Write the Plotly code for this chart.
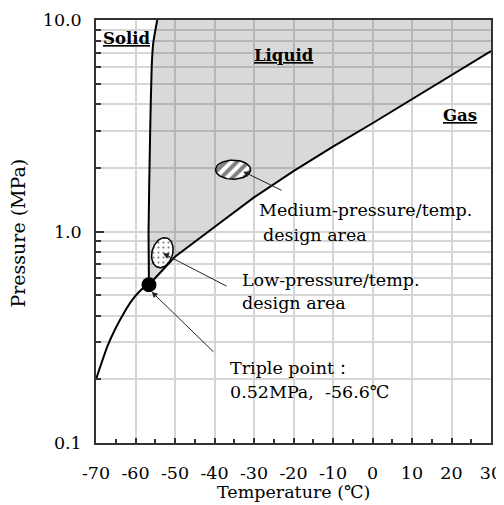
import numpy as np
import plotly.graph_objects as go

# ---------------- data ----------------
SUBLIMATION_T = [-70, -67, -65, -63, -61, -59, -57.5, -56.6]
SUBLIMATION_P = [0.20, 0.29, 0.35, 0.41, 0.47, 0.52, 0.55, 0.56]

MELTING_T = [-56.6, -56.7, -56.3, -55.9, -55.5, -54.5]
MELTING_P = [0.56, 1.0, 2.9, 6.0, 7.8, 10.0]

VAPOR_T = [-56.6, -50, -40, -30, -20, -10, 0, 10, 20, 30]
VAPOR_P = [0.56, 0.76, 1.05, 1.45, 1.93, 2.52, 3.25, 4.22, 5.48, 7.13]

TRIPLE_T = [-56.6]
TRIPLE_P = [0.56]

# design areas: centre temperature, centre pressure
MED_AREA_T = -35.3
MED_AREA_P = 1.96
LOW_AREA_T = -53.2
LOW_AREA_P = 0.794

X_TICKS = [-70, -60, -50, -40, -30, -20, -10, 0, 10, 20, 30]
X_TICK_TEXT = ["-70", "-60", "-50", "-40", "-30", "-20", "-10", "0", "10", "20", "30"]
Y_TICKS = [0.1, 1, 10]
Y_TICK_TEXT = ["0.1", "1.0", "10.0"]
Y_MINOR = [0.2, 0.3, 0.4, 0.5, 0.6, 0.7, 0.8, 0.9, 2, 3, 4, 5, 6, 7, 8, 9]

FONT = "DejaVu Serif"
FS = 17.5
AX_COLOR = "#333333"
GRID = "#d6d6d6"


def ellipse(tc, pc, r_t, r_log, shear=0.0, n=73):
    t = np.linspace(0, 2 * np.pi, n)
    x = tc + r_t * np.cos(t) + shear * np.sin(t)
    y = 10 ** (np.log10(pc) + r_log * np.sin(t))
    return x, y


fig = go.Figure()

# liquid region fill
fill_x = list(MELTING_T) + [30] + list(VAPOR_T[::-1])
fill_y = list(MELTING_P) + [10] + list(VAPOR_P[::-1])
fig.add_trace(go.Scatter(x=fill_x, y=fill_y, mode="lines", fill="toself",
                         fillcolor="rgba(0,0,0,0.15)", line=dict(width=0),
                         hoverinfo="skip", showlegend=False))

# design areas
mx, my = ellipse(MED_AREA_T, MED_AREA_P, 4.43, 0.045)
fig.add_trace(go.Scatter(x=mx, y=my, mode="lines", fill="toself",
                         fillcolor="white",
                         fillpattern=dict(shape="/", fgcolor="black", bgcolor="white",
                                          size=8, solidity=0.5),
                         line=dict(color="black", width=1.5), showlegend=False))
lx, ly = ellipse(LOW_AREA_T, LOW_AREA_P, 2.66, 0.071, shear=0.6)
fig.add_trace(go.Scatter(x=lx, y=ly, mode="lines", fill="toself",
                         fillcolor="white",
                         fillpattern=dict(shape=".", fgcolor="black", bgcolor="white",
                                          size=5, solidity=0.15),
                         line=dict(color="black", width=1.5), showlegend=False))

# phase boundaries
fig.add_trace(go.Scatter(x=SUBLIMATION_T, y=SUBLIMATION_P, mode="lines",
                         line=dict(color="black", width=2, shape="spline", smoothing=0.6),
                         showlegend=False))
fig.add_trace(go.Scatter(x=MELTING_T, y=MELTING_P, mode="lines",
                         line=dict(color="black", width=2, shape="spline", smoothing=0.5),
                         showlegend=False))
fig.add_trace(go.Scatter(x=VAPOR_T, y=VAPOR_P, mode="lines",
                         line=dict(color="black", width=2),
                         showlegend=False))

# triple point
fig.add_trace(go.Scatter(x=TRIPLE_T, y=TRIPLE_P, mode="markers",
                         marker=dict(color="black", size=15), showlegend=False))

annotations = []


def arrow(x_head, logy_head, x_tail, logy_tail):
    annotations.append(dict(x=x_head, y=logy_head, ax=x_tail, ay=logy_tail,
                            xref="x", yref="y", axref="x", ayref="y",
                            showarrow=True, arrowhead=2, arrowsize=1.2, arrowwidth=1,
                            arrowcolor="#222222", text=""))


def label(x, logy, text, anchor="left", size=FS):
    annotations.append(dict(x=x, y=logy, xref="x", yref="y", text=text,
                            showarrow=False, xanchor=anchor, yanchor="middle",
                            font=dict(family=FONT, size=size, color="black")))


arrow(-32.7, 0.283, -22.66, 0.1915)
arrow(-53.04, -0.103, -36.58, -0.262)
arrow(-55.9, -0.285, -39.87, -0.576)

label(-68.73, 0.9149, "<b><u>Solid</u></b>", size=16.5)
label(-22.48, 0.8345, "<b><u>Liquid</u></b>", anchor="center", size=16.5)
label(22.08, 0.5508, "<b><u>Gas</u></b>", anchor="center", size=16.5)

label(-29.24, 0.1017, "Medium-pressure/temp.")
label(-28.2, -0.0165, "design area")
label(-33.54, -0.2293, "Low-pressure/temp.")
label(-33.54, -0.338, "design area")
label(-36.58, -0.6454, "Triple point：")
label(-36.58, -0.7589, "0.52MPa,  -56.6℃")

# axis titles
annotations.append(dict(x=0.5, y=-0.1158, xref="paper", yref="paper",
                        text="Temperature (℃)", showarrow=False,
                        xanchor="center", yanchor="middle",
                        font=dict(family=FONT, size=FS, color="black")))
annotations.append(dict(x=-0.1975, y=0.4976, xref="paper", yref="paper",
                        text="Pressure (MPa)", showarrow=False, textangle=-90,
                        xanchor="center", yanchor="middle",
                        font=dict(family=FONT, size=19, color="black")))

# page body has an 8px default margin, so the figure is sized to fit the window
fig.update_layout(
    width=496, height=497,
    margin=dict(l=88, r=13, t=12, b=62, autoexpand=False),
    paper_bgcolor="white", plot_bgcolor="white",
    annotations=annotations,
    showlegend=False,
    font=dict(family=FONT, size=FS, color="black"),
)

fig.update_xaxes(
    range=[-70, 30], tickmode="array", tickvals=X_TICKS, ticktext=X_TICK_TEXT,
    ticks="inside", ticklen=5, tickwidth=1.5, tickcolor=AX_COLOR,
    showline=True, linecolor=AX_COLOR, linewidth=2, mirror=True,
    showgrid=True, gridcolor=GRID, gridwidth=1.5, zeroline=False,
    automargin=False,
    tickfont=dict(family=FONT, size=FS, color="black"), ticklabelstandoff=13,
    minor=dict(dtick=5, tick0=-70, ticks="inside", ticklen=4, tickwidth=1.5,
               tickcolor=AX_COLOR, showgrid=False),
)
fig.update_yaxes(
    type="log", range=[-1, 1], tickmode="array", tickvals=Y_TICKS,
    ticktext=[t + "\u2002" for t in Y_TICK_TEXT],
    ticks="inside", ticklen=8, tickwidth=1.5, tickcolor=AX_COLOR,
    showline=True, linecolor=AX_COLOR, linewidth=2, mirror=True,
    showgrid=True, gridcolor=GRID, gridwidth=1.5, zeroline=False,
    automargin=False,
    tickfont=dict(family=FONT, size=FS, color="black"),
    minor=dict(tickmode="array", tickvals=Y_MINOR, ticks="inside", ticklen=5,
               tickwidth=1.5, tickcolor=AX_COLOR, showgrid=True,
               gridcolor=GRID, gridwidth=1.5),
)

fig.write_html("out.html")
